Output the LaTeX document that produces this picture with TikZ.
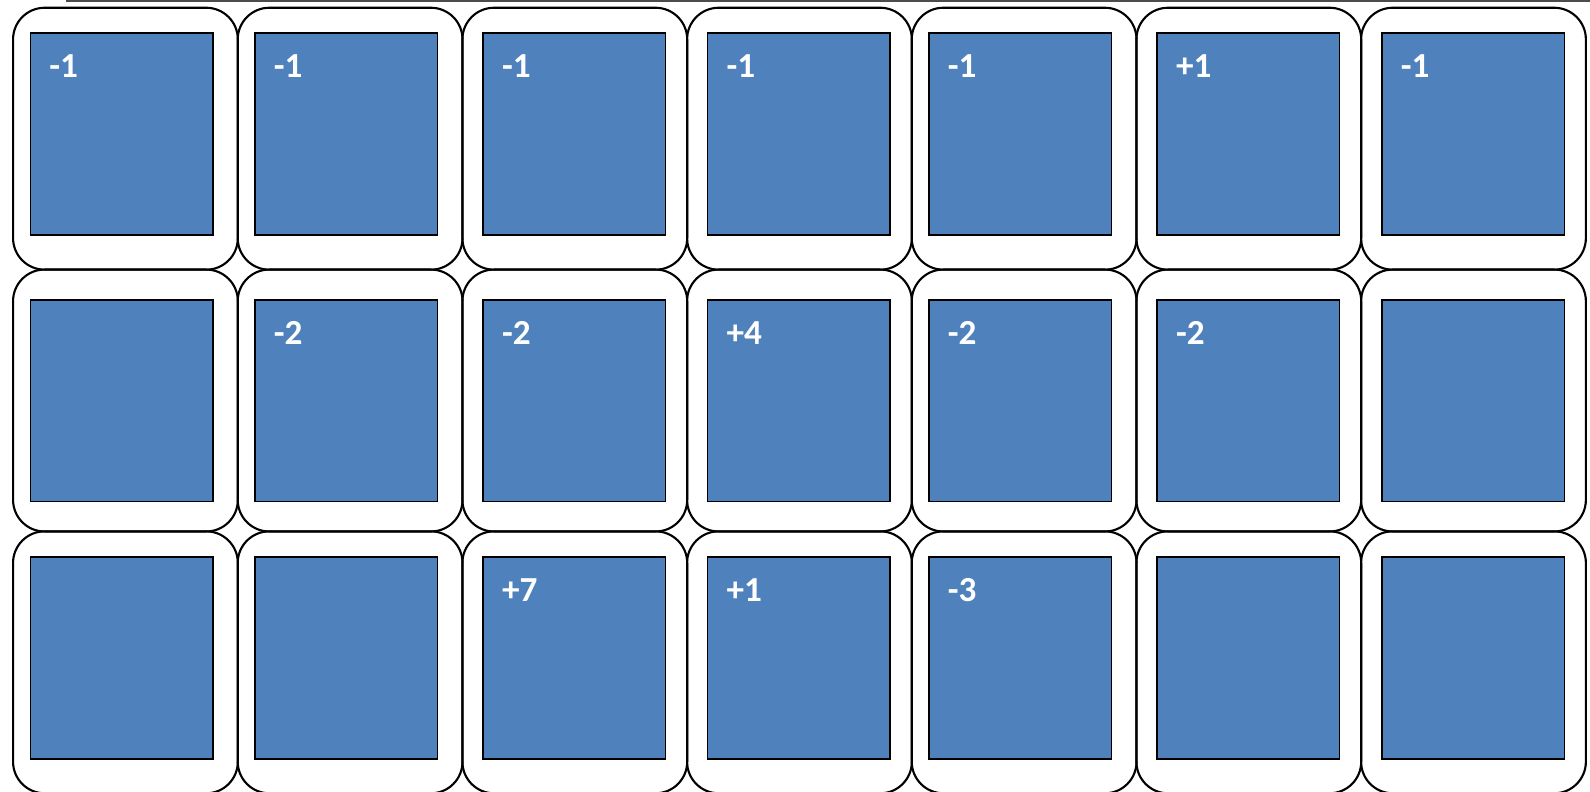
\documentclass[tikz,border=0pt]{standalone}
\usepackage{fontspec}
\setmainfont{Carlito}
\usepackage{tikz}
\usetikzlibrary{calc}
\definecolor{cellblue}{HTML}{4F81BD}

\begin{document}
\begin{tikzpicture}[x=0.01cm,y=-0.01cm,
outer/.style={draw,line width=0.6pt,rounded corners=9pt,minimum width=2.2467cm,minimum height=2.618cm,inner sep=0pt,anchor=north west},
sq/.style={draw,fill=cellblue,line width=0.45pt,minimum width=1.824cm,minimum height=2.018cm,inner sep=0pt,anchor=north west},
lab/.style={font=\fontsize{10}{12}\selectfont\bfseries,text=white,anchor=base west,inner sep=0pt}]
\useasboundingbox (0,0) rectangle (1590,792);
\clip (0,0) rectangle (1590,792);
\coordinate (tl) at (66,1);
\coordinate (tr) at (1590,1);
\draw[gray!60!black,line width=0.45pt] (tl)--(tr);
\foreach \c in {0,...,6}{\foreach \r in {0,1,2}{\node[outer] (o\r\c) at (12+224.67*\c,6.7+261.8*\r) {};}}
\foreach \x [count=\c] in {29.7,254.2,482.4,706.8,928.2,1156.3,1381.2}{%
\foreach \y [count=\r] in {32.3,299,556.3}{\node[sq] (s\r\c) at (\x,\y) {};}}
% first row
\foreach \v [count=\c] in {-1,-1,-1,-1,-1,+1,-1}{\node[lab] (l1\c) at ($(s1\c.north west)+(19,45.5)$) {\v};}
% second row
\node[lab] (l22) at ($(s22.north west)+(19,45.5)$) {-2};
\node[lab] (l23) at ($(s23.north west)+(19,45.5)$) {-2};
\node[lab] (l24) at ($(s24.north west)+(19,45.5)$) {+4};
\node[lab] (l25) at ($(s25.north west)+(19,45.5)$) {-2};
\node[lab] (l26) at ($(s26.north west)+(19,45.5)$) {-2};
% third row
\node[lab] (l33) at ($(s33.north west)+(19,45.5)$) {+7};
\node[lab] (l34) at ($(s34.north west)+(19,45.5)$) {+1};
\node[lab] (l35) at ($(s35.north west)+(19,45.5)$) {-3};
\end{tikzpicture}
\end{document}
